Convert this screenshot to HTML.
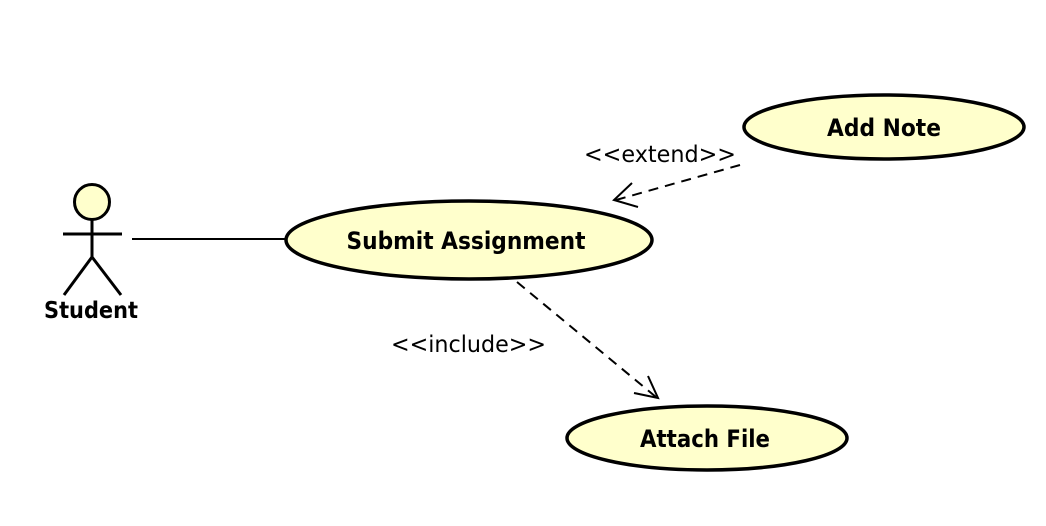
<!DOCTYPE html>
<html><head><meta charset="utf-8"><style>html,body{margin:0;padding:0;background:#fff}svg{display:block}</style></head>
<body>
<svg width="1046" height="526" viewBox="0 0 1046 526" xmlns="http://www.w3.org/2000/svg">
<rect width="1046" height="526" fill="#fff"/>
<circle cx="92" cy="202" r="17.5" fill="#ffffcc" stroke="#000" stroke-width="3"/>
<line x1="63" y1="234" x2="122" y2="234" stroke="#000" stroke-width="3"/>
<line x1="92" y1="219" x2="92" y2="257" stroke="#000" stroke-width="3"/>
<line x1="92" y1="257" x2="64" y2="295" stroke="#000" stroke-width="3"/>
<line x1="92" y1="257" x2="121" y2="295" stroke="#000" stroke-width="3"/>
<text x="91" y="318" text-anchor="middle" font-family="DejaVu Sans, Liberation Sans, sans-serif" font-weight="bold" font-size="23" textLength="94" lengthAdjust="spacingAndGlyphs">Student</text>
<line x1="132" y1="239" x2="286" y2="239" stroke="#000" stroke-width="2"/>
<ellipse cx="469" cy="240" rx="183" ry="39" fill="#ffffcc" stroke="#000" stroke-width="3.5"/>
<text x="466" y="249" text-anchor="middle" font-family="DejaVu Sans, Liberation Sans, sans-serif" font-weight="bold" font-size="24" textLength="239" lengthAdjust="spacingAndGlyphs">Submit Assignment</text>
<ellipse cx="884" cy="127" rx="140" ry="32" fill="#ffffcc" stroke="#000" stroke-width="3.5"/>
<text x="884" y="136" text-anchor="middle" font-family="DejaVu Sans, Liberation Sans, sans-serif" font-weight="bold" font-size="24" textLength="114" lengthAdjust="spacingAndGlyphs">Add Note</text>
<ellipse cx="707" cy="438" rx="140" ry="32" fill="#ffffcc" stroke="#000" stroke-width="3.5"/>
<text x="705" y="447" text-anchor="middle" font-family="DejaVu Sans, Liberation Sans, sans-serif" font-weight="bold" font-size="24" textLength="130" lengthAdjust="spacingAndGlyphs">Attach File</text>
<line x1="740" y1="165" x2="616" y2="200" stroke="#000" stroke-width="2" stroke-dasharray="10,7"/>
<polyline points="632,183 614,200 638,207" fill="none" stroke="#000" stroke-width="2"/>
<text x="584" y="162" font-family="DejaVu Sans, Liberation Sans, sans-serif" font-size="23" textLength="152" lengthAdjust="spacingAndGlyphs">&lt;&lt;extend&gt;&gt;</text>
<line x1="517" y1="282" x2="656" y2="397" stroke="#000" stroke-width="2" stroke-dasharray="10,7"/>
<polyline points="648,376 658,398 634,393" fill="none" stroke="#000" stroke-width="2"/>
<text x="391" y="352" font-family="DejaVu Sans, Liberation Sans, sans-serif" font-size="23" textLength="155" lengthAdjust="spacingAndGlyphs">&lt;&lt;include&gt;&gt;</text>
</svg>
</body></html>
